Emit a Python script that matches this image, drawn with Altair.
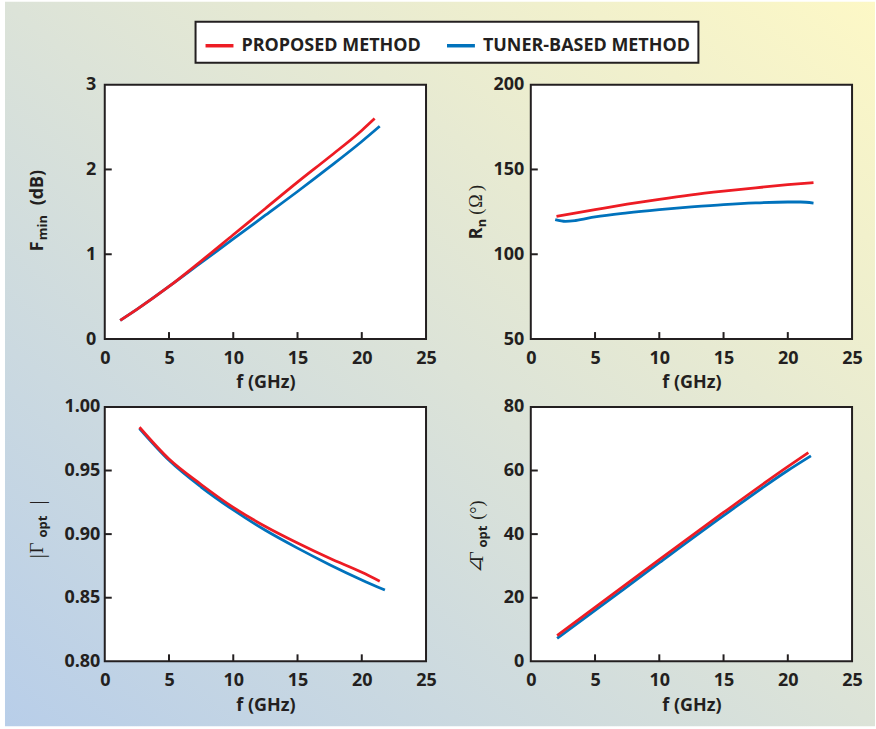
import altair as alt
import pandas as pd

# ---------------- data ----------------
SERIES = ["PROPOSED METHOD", "TUNER-BASED METHOD"]

FMIN_RED_F = [1.2, 2.5, 5, 7.5, 10, 12.5, 15, 17.5, 20, 21.0]
FMIN_RED_V = [0.22, 0.35, 0.62, 0.92, 1.23, 1.54, 1.85, 2.15, 2.46, 2.60]
FMIN_BLUE_F = [1.2, 2.5, 5, 7.5, 10, 12.5, 15, 17.5, 20, 21.4]
FMIN_BLUE_V = [0.22, 0.35, 0.62, 0.90, 1.18, 1.46, 1.74, 2.03, 2.33, 2.51]

RN_RED_F = [2.0, 5, 7.5, 10, 12.5, 15, 17.5, 20, 22.0]
RN_RED_V = [122.4, 126.3, 129.5, 132.4, 135.0, 137.2, 139.2, 141.0, 142.2]
RN_BLUE_F = [1.9, 2.7, 3.5, 5, 7.5, 10, 12.5, 15, 17.5, 20, 21, 22]
RN_BLUE_V = [120.4, 119.4, 119.9, 122.0, 124.4, 126.3, 127.9, 129.3, 130.3, 130.8, 130.8, 130.2]

GMAG_RED_F = [2.7, 5, 7.5, 10, 12.5, 15, 17.5, 20, 21.4]
GMAG_RED_V = [0.984, 0.959, 0.939, 0.921, 0.906, 0.893, 0.881, 0.870, 0.863]
GMAG_BLUE_F = [2.7, 5, 7.5, 10, 12.5, 15, 17.5, 20, 21.8]
GMAG_BLUE_V = [0.983, 0.958, 0.937, 0.919, 0.903, 0.889, 0.876, 0.864, 0.856]

GANG_RED_F = [2.05, 5, 10, 15, 20, 21.6]
GANG_RED_V = [8.1, 17.0, 32.0, 46.8, 61.2, 65.6]
GANG_BLUE_F = [2.05, 5, 10, 15, 20, 21.8]
GANG_BLUE_V = [7.2, 16.0, 31.0, 45.8, 60.0, 64.6]

X_LABELS = [0, 5, 10, 15, 20, 25]
X_TICKS = [5, 10, 15, 20]

# ---------------- style ----------------
INK = "#231f20"
RED = "#ed1c24"
BLUE = "#0072bc"
FONT = "Open Sans"
SERIF = "Liberation Serif, DejaVu Serif"
FS = 18
W, H = 322, 255

LEGEND = alt.Legend(
    title=None, orient="none", legendX=91, legendY=-63, direction="horizontal",
    symbolType="stroke", symbolSize=784, symbolStrokeWidth=3.5,
    labelFont=FONT, labelFontSize=FS, labelFontWeight="bold", labelColor=INK,
    fillColor="white", strokeColor=INK, padding=8, labelOffset=6,
    columnPadding=18, labelLimit=400,
)

GRAD = alt.LinearGradient(
    gradient="linear",
    stops=[
        alt.GradientStop(offset=0, color="#b8cee9"),
        alt.GradientStop(offset=0.5, color="#dce3d8"),
        alt.GradientStop(offset=1, color="#fdf8c6"),
    ],
    x1=0, y1=1, x2=1, y2=0,
)


def series_df(f, v, name):
    return pd.DataFrame({"f": f, "v": v, "series": name})


def piece(txt, font, size, weight, x, y):
    return alt.Chart(pd.DataFrame({"t": [txt]})).mark_text(
        angle=270, align="left", baseline="alphabetic", font=font,
        fontSize=size, fontWeight=weight, color=INK,
    ).encode(text="t:N", x=alt.value(x), y=alt.value(y))


def panel(rf, rv, bf, bv, ydom, yvals, yfmt, ytick_vals, label_pad, pieces, with_bg=False):
    xs = alt.Scale(domain=[0, 25], nice=False, zero=False)
    ys = alt.Scale(domain=ydom, nice=False, zero=False)
    xaxis = alt.Axis(values=X_LABELS, title="f (GHz)", format="d", zindex=2)
    yaxis = alt.Axis(values=yvals, format=yfmt, title=None, labelPadding=label_pad, zindex=2)
    xenc = alt.X("f:Q", scale=xs, axis=xaxis)
    yenc = alt.Y("v:Q", scale=ys, axis=yaxis)
    color = alt.Color("series:N", scale=alt.Scale(domain=SERIES, range=[RED, BLUE]), legend=LEGEND)

    blue = alt.Chart(series_df(bf, bv, SERIES[1])).mark_line(
        strokeWidth=2.8, interpolate="monotone").encode(x=xenc, y=yenc, color=color)
    red = alt.Chart(series_df(rf, rv, SERIES[0])).mark_line(
        strokeWidth=2.8, interpolate="monotone").encode(x=xenc, y=yenc, color=color)

    xt = alt.Chart(pd.DataFrame({"f": X_TICKS})).mark_rule(color=INK, strokeWidth=2).encode(
        x=xenc, y=alt.value(H), y2=alt.value(H - 7))
    yt = alt.Chart(pd.DataFrame({"v": ytick_vals})).mark_rule(color=INK, strokeWidth=2).encode(
        y=yenc, x=alt.value(0), x2=alt.value(7))

    layers = []
    if with_bg:
        bg = alt.Chart(pd.DataFrame({"a": [0]})).mark_rect(fill=GRAD).encode(
            x=alt.value(-100), x2=alt.value(772), y=alt.value(-83), y2=alt.value(643))
        white = alt.Chart(pd.DataFrame({"a": [0]})).mark_rect(
            fill="white", stroke=INK, strokeWidth=2).encode(
            x=alt.value(0), x2=alt.value(W), y=alt.value(0), y2=alt.value(H))
        layers += [bg, white]
    layers += [xt, yt, blue, red]
    layers += [piece(*p) for p in pieces]
    return alt.layer(*layers).properties(width=W, height=H)


p1 = panel(FMIN_RED_F, FMIN_RED_V, FMIN_BLUE_F, FMIN_BLUE_V, [0, 3], [0, 1, 2, 3], "d", [1, 2], 9,
           [("F", FONT, FS, "bold", -62, 167),
            ("min", FONT, 13, "bold", -58, 156),
            ("(dB)", FONT, FS, "bold", -62, 121)],
           with_bg=True)
p2 = panel(RN_RED_F, RN_RED_V, RN_BLUE_F, RN_BLUE_V, [50, 200], [50, 100, 150, 200], "d", [100, 150], 7,
           [("R", FONT, FS, "bold", -49, 155),
            ("n", FONT, 13, "bold", -45, 143),
            ("(", SERIF, 18, "normal", -49, 130.5),
            ("Ω", SERIF, 18, "normal", -49, 123.5),
            (")", SERIF, 18, "normal", -49, 106.5)])
p3 = panel(GMAG_RED_F, GMAG_RED_V, GMAG_BLUE_F, GMAG_BLUE_V, [0.8, 1.0],
           [0.80, 0.85, 0.90, 0.95, 1.00], ".2f", [0.85, 0.90, 0.95], 5,
           [("|", SERIF, 22, "normal", -61, 152),
            ("Γ", SERIF, 19, "normal", -62, 147),
            ("opt", FONT, 13, "bold", -58, 131),
            ("|", SERIF, 22, "normal", -61, 98)])
p4 = panel(GANG_RED_F, GANG_RED_V, GANG_BLUE_F, GANG_BLUE_V, [0, 80], [0, 20, 40, 60, 80], "d",
           [20, 40, 60], 7,
           [("∠", SERIF, 19, "normal", -48, 167),
            ("Γ", SERIF, 19, "normal", -48, 155.7),
            ("opt", FONT, 13, "bold", -44, 141),
            ("(°)", SERIF, 18, "normal", -48, 113)])

chart = alt.concat(p1, p2, p3, p4, columns=2).properties(
    bounds="flush",
    spacing={"row": 68, "column": 105},
    padding={"left": 4, "top": 0, "right": 0, "bottom": 3},
    background="white",
).configure_view(
    stroke=INK, strokeWidth=2, fill="white"
).configure_axis(
    labelFont=FONT, labelFontSize=FS, labelFontWeight="bold", labelColor=INK,
    titleFont=FONT, titleFontSize=FS, titleFontWeight="bold", titleColor=INK,
    ticks=False, tickSize=0, domain=False, grid=False,
    labelFlush=False, labelOverlap=False,
).configure_axisX(
    labelPadding=10, titlePadding=7
).configure_legend(
    strokeWidth=2
)

chart.save("out.html", embed_options={"renderer": "svg", "actions": False})
